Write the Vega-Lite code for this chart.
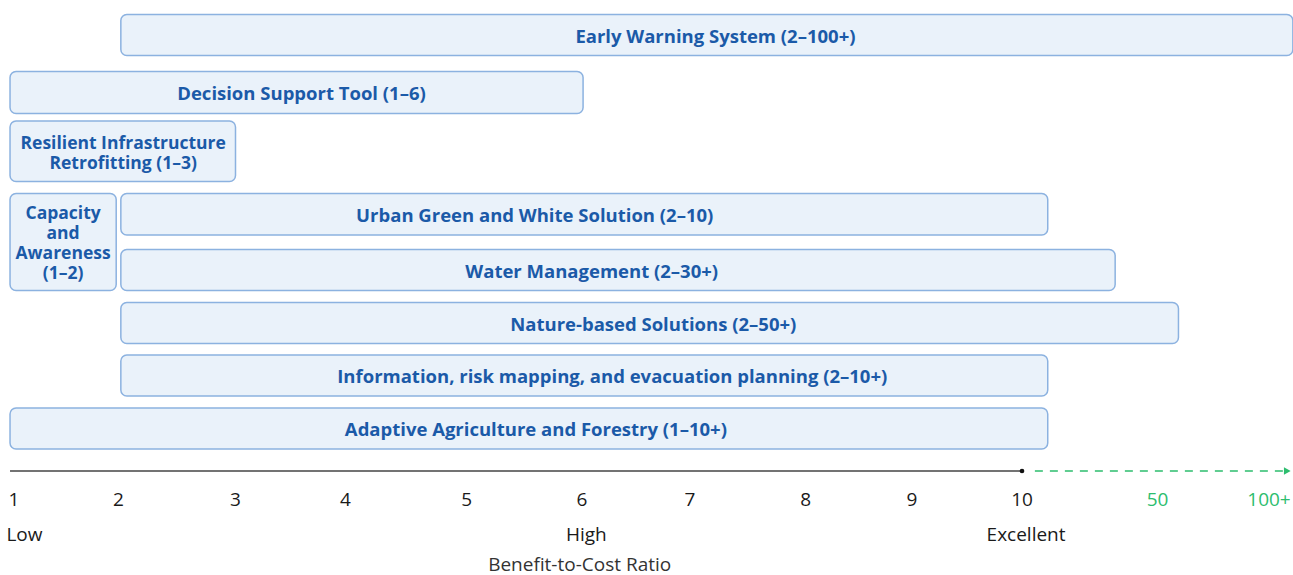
{
  "$schema": "https://vega.github.io/schema/vega-lite/v6.json",
  "width": 1293,
  "height": 575,
  "autosize": "none",
  "padding": 0,
  "background": "white",
  "config": {"view": {"stroke": null}},
  "datasets": {
    "boxes": [
      {"name": "Early Warning System", "x0": 2.02, "x1": 110.7, "y0": 0.29, "y1": 1.11},
      {"name": "Decision Support Tool", "x0": 0.962, "x1": 6.01, "y0": 1.43, "y1": 2.27},
      {"name": "Resilient Infrastructure Retrofitting", "x0": 0.962, "x1": 3.0, "y0": 2.42, "y1": 3.63},
      {"name": "Capacity and Awareness", "x0": 0.962, "x1": 1.978, "y0": 3.87, "y1": 5.81},
      {"name": "Urban Green and White Solution", "x0": 2.02, "x1": 17.6, "y0": 3.87, "y1": 4.7},
      {"name": "Water Management", "x0": 2.02, "x1": 37.5, "y0": 4.99, "y1": 5.81},
      {"name": "Nature-based Solutions", "x0": 2.02, "x1": 59.4, "y0": 6.05, "y1": 6.87},
      {"name": "Information, risk mapping, and evacuation planning", "x0": 2.02, "x1": 17.6, "y0": 7.1, "y1": 7.92},
      {"name": "Adaptive Agriculture and Forestry", "x0": 0.962, "x1": 17.6, "y0": 8.16, "y1": 8.98}
    ],
    "labels": [
      {"label": "Early Warning System (2–100+)", "x": 7.22, "y": 0.74},
      {"label": "Decision Support Tool (1–6)", "x": 3.6, "y": 1.88},
      {"label": "Urban Green and White Solution (2–10)", "x": 5.59, "y": 4.32},
      {"label": "Water Management (2–30+)", "x": 6.09, "y": 5.44},
      {"label": "Nature-based Solutions (2–50+)", "x": 6.66, "y": 6.5},
      {"label": "Information, risk mapping, and evacuation planning (2–10+)", "x": 6.28, "y": 7.54},
      {"label": "Adaptive Agriculture and Forestry (1–10+)", "x": 5.6, "y": 8.6}
    ],
    "multiLabels": [
      {"label": ["Resilient Infrastructure", "Retrofitting (1–3)"], "x": 2.04, "y": 2.88},
      {"label": ["Capacity", "and", "Awareness", "(1–2)"], "x": 1.47, "y": 4.28}
    ],
    "ticks": [
      {"label": "1", "x": 1, "segment": "core"},
      {"label": "2", "x": 2, "segment": "core"},
      {"label": "3", "x": 3, "segment": "core"},
      {"label": "4", "x": 4, "segment": "core"},
      {"label": "5", "x": 5, "segment": "core"},
      {"label": "6", "x": 6, "segment": "core"},
      {"label": "7", "x": 7, "segment": "core"},
      {"label": "8", "x": 8, "segment": "core"},
      {"label": "9", "x": 9, "segment": "core"},
      {"label": "10", "x": 10, "segment": "core"},
      {"label": "50", "x": 50, "segment": "extended"},
      {"label": "100+", "x": 100, "segment": "extended"}
    ],
    "quality": [
      {"label": "Low", "x": 1.1},
      {"label": "High", "x": 6.04},
      {"label": "Excellent", "x": 11.2}
    ]
  },
  "layer": [
    {
      "data": {"name": "boxes"},
      "mark": {"type": "rect", "cornerRadius": 6, "fill": "#eaf2fa", "stroke": "#8cb2e0", "strokeWidth": 1.5},
      "encoding": {
        "x": {"field": "x0", "type": "quantitative", "axis": null, "scale": {"domain": [1, 2, 3, 4, 5, 6, 7, 8, 9, 10, 50, 100], "range": [14, 118.5, 235.5, 345.5, 466.7, 582, 690, 805.7, 912, 1022, 1157.5, 1269], "nice": false, "zero": false}},
        "x2": {"field": "x1"},
        "y": {"field": "y0", "type": "quantitative", "axis": null, "scale": {"domain": [0, 11.5], "range": [0, 575], "nice": false, "zero": false}},
        "y2": {"field": "y1"}
      }
    },
    {
      "data": {"name": "labels"},
      "mark": {"type": "text", "font": "Open Sans", "fontSize": 18.5, "fontWeight": "bold", "color": "#1b5aa8", "align": "center", "baseline": "middle"},
      "encoding": {
        "x": {"field": "x", "type": "quantitative"},
        "y": {"field": "y", "type": "quantitative"},
        "text": {"field": "label"}
      }
    },
    {
      "data": {"name": "multiLabels"},
      "mark": {"type": "text", "font": "Open Sans", "fontSize": 17.5, "fontWeight": "bold", "color": "#1b5aa8", "align": "center", "baseline": "middle", "lineHeight": 20},
      "encoding": {
        "x": {"field": "x", "type": "quantitative"},
        "y": {"field": "y", "type": "quantitative"},
        "text": {"field": "label"}
      }
    },
    {
      "data": {"values": [{"x0": 0.962, "x1": 10, "y": 9.42}]},
      "mark": {"type": "rule", "color": "#444444", "strokeWidth": 1.5},
      "encoding": {
        "x": {"field": "x0", "type": "quantitative"},
        "x2": {"field": "x1"},
        "y": {"field": "y", "type": "quantitative"}
      }
    },
    {
      "data": {"values": [{"x0": 13.8, "x1": 108, "y": 9.42}]},
      "mark": {"type": "rule", "color": "#2dbd6e", "strokeWidth": 1.5, "strokeDash": [8, 7]},
      "encoding": {
        "x": {"field": "x0", "type": "quantitative"},
        "x2": {"field": "x1"},
        "y": {"field": "y", "type": "quantitative"}
      }
    },
    {
      "data": {"values": [{"x": 10, "y": 9.42}]},
      "mark": {"type": "point", "filled": true, "color": "#111111", "size": 22, "opacity": 1},
      "encoding": {
        "x": {"field": "x", "type": "quantitative"},
        "y": {"field": "y", "type": "quantitative"}
      }
    },
    {
      "data": {"values": [{"x": 108.2, "y": 9.42}]},
      "mark": {"type": "point", "shape": "triangle-right", "filled": true, "color": "#2dbd6e", "size": 60, "opacity": 1},
      "encoding": {
        "x": {"field": "x", "type": "quantitative"},
        "y": {"field": "y", "type": "quantitative"}
      }
    },
    {
      "data": {"name": "ticks"},
      "mark": {"type": "text", "font": "Open Sans", "fontSize": 19, "align": "center", "baseline": "middle"},
      "encoding": {
        "x": {"field": "x", "type": "quantitative"},
        "y": {"datum": 10.0, "type": "quantitative"},
        "text": {"field": "label"},
        "color": {"field": "segment", "type": "nominal", "legend": null, "scale": {"domain": ["core", "extended"], "range": ["#1a1a1a", "#2dbd6e"]}}
      }
    },
    {
      "data": {"name": "quality"},
      "mark": {"type": "text", "font": "Open Sans", "fontSize": 19, "align": "center", "baseline": "middle", "color": "#1a1a1a"},
      "encoding": {
        "x": {"field": "x", "type": "quantitative"},
        "y": {"datum": 10.7, "type": "quantitative"},
        "text": {"field": "label"}
      }
    },
    {
      "data": {"values": [{"label": "Benefit-to-Cost Ratio", "x": 5.98}]},
      "mark": {"type": "text", "font": "Open Sans", "fontSize": 19, "align": "center", "baseline": "middle", "color": "#333333"},
      "encoding": {
        "x": {"field": "x", "type": "quantitative"},
        "y": {"datum": 11.3, "type": "quantitative"},
        "text": {"field": "label"}
      }
    }
  ]
}
